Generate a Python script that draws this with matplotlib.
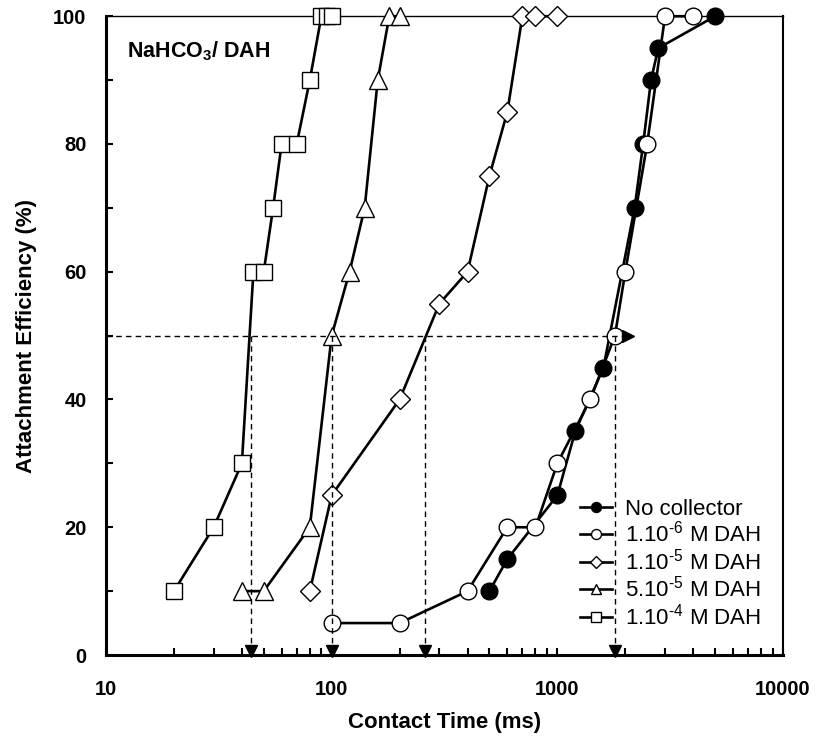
import matplotlib
matplotlib.use("Agg")
import matplotlib.pyplot as plt
from matplotlib.ticker import NullFormatter

plt.rcParams["font.family"] = ["Liberation Sans", "DejaVu Sans"]
plt.rcParams["mathtext.default"] = "regular"

# contact time (ms) / attachment efficiency (%)
no_coll_t = [500, 600, 1000, 1200, 1600, 2200, 2400, 2600, 2800, 5000]
no_coll_e = [10, 15, 25, 35, 45, 70, 80, 90, 95, 100]

dah_1e6_t = [100, 200, 400, 600, 800, 1000, 1400, 1800, 2000, 2500, 3000, 4000]
dah_1e6_e = [5, 5, 10, 20, 20, 30, 40, 50, 60, 80, 100, 100]

dah_1e5_t = [80, 100, 200, 300, 400, 500, 600, 700, 800, 1000]
dah_1e5_e = [10, 25, 40, 55, 60, 75, 85, 100, 100, 100]

dah_5e5_t = [40, 50, 80, 100, 120, 140, 160, 180, 200]
dah_5e5_e = [10, 10, 20, 50, 60, 70, 90, 100, 100]

dah_1e4_t = [20, 30, 40, 45, 50, 55, 60, 70, 80, 90, 95, 100]
dah_1e4_e = [10, 20, 30, 60, 60, 70, 80, 80, 90, 100, 100, 100]

# t50 guide lines
guide_level = 50
guide_t = [44, 100, 260, 1800]
guide_arrow_t = 2050

x_ticks = [10, 100, 1000, 10000]
x_tick_labels = ["10", "100", "1000", "10000"]
y_ticks = [0, 20, 40, 60, 80, 100]
y_minor = [10, 30, 50, 70, 90]

# U+2010 hyphen keeps the short dash of the original superscripts
series = [
    (no_coll_t, no_coll_e, "o", "black", 12, "No collector"),
    (dah_1e6_t, dah_1e6_e, "o", "white", 12, "1.10$^{\u20106}$ M DAH"),
    (dah_1e5_t, dah_1e5_e, "D", "white", 10, "1.10$^{\u20105}$ M DAH"),
    (dah_5e5_t, dah_5e5_e, "^", "white", 13, "5.10$^{\u20105}$ M DAH"),
    (dah_1e4_t, dah_1e4_e, "s", "white", 12, "1.10$^{\u20104}$ M DAH"),
]

fig = plt.figure(figsize=(8.16, 7.45), dpi=100)
ax = fig.add_axes([0.1299, 0.1208, 0.8297, 0.8574])

for t, e, marker, face, ms, label in series:
    ax.plot(t, e, color="black", lw=1.9, marker=marker, ms=ms,
            mfc=face, mec="black", mew=1.0, label=label, zorder=3,
            clip_on=False)

# dashed guides
ax.plot([10, guide_arrow_t], [guide_level, guide_level], color="black",
        lw=1.0, ls=(0, (4, 3)), zorder=4)
ax.plot([guide_arrow_t], [guide_level], marker=">", color="black", ms=8,
        zorder=4, clip_on=False)
for t in guide_t:
    ax.plot([t, t], [guide_level, 0], color="black", lw=1.0,
            ls=(0, (4, 3)), zorder=4)
    ax.plot([t], [0.7], marker="v", color="black", ms=8, zorder=4,
            clip_on=False)

ax.set_xscale("log")
ax.set_xlim(10, 10000)
ax.set_ylim(0, 100)
ax.set_xticks(x_ticks)
ax.set_xticklabels(x_tick_labels)
ax.xaxis.set_minor_formatter(NullFormatter())
ax.set_yticks(y_ticks)
ax.set_yticks(y_minor, minor=True)

ax.tick_params(which="both", direction="in", width=1.5, length=5,
               labelsize=14.5)
ax.tick_params(axis="y", pad=14)
ax.tick_params(axis="x", pad=18)
for lbl in ax.get_xticklabels() + ax.get_yticklabels():
    lbl.set_fontweight("bold")

for side in ["left", "bottom"]:
    ax.spines[side].set_linewidth(2.2)
ax.spines["right"].set_linewidth(1.5)
ax.spines["top"].set_linewidth(1.0)

ax.set_xlabel("Contact Time (ms)", fontsize=16, fontweight="bold",
              labelpad=9)
ax.set_ylabel("Attachment Efficiency (%)", fontsize=16, fontweight="bold",
              labelpad=12)

ax.text(0.031, 0.945, "NaHCO$_3$/ DAH", transform=ax.transAxes,
        fontsize=15.5, fontweight="bold", va="center", ha="left")

ax.legend(loc="upper left", bbox_to_anchor=(0.70, 0.245), frameon=False,
          fontsize=16, markerscale=0.6, handlelength=1.45,
          handletextpad=0.6, labelspacing=0.07, borderpad=0,
          borderaxespad=0)

fig.savefig("out.png", dpi=100)
